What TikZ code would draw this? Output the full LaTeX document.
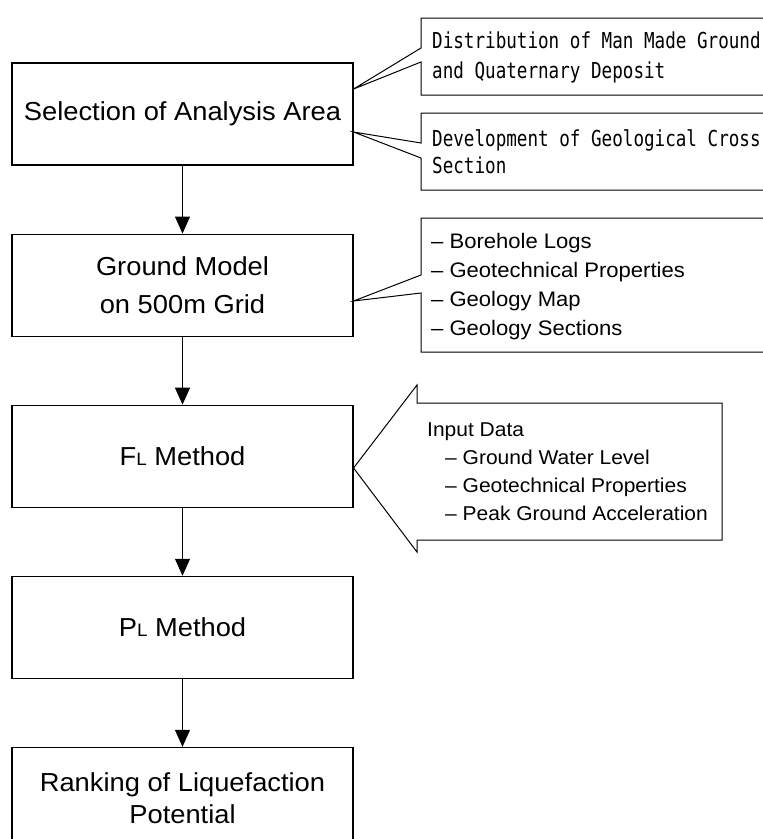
\documentclass[tikz,border=0pt]{standalone}
\usepackage{fontspec}
\setmainfont{Liberation Sans}[FakeStretch=1.05]
\newfontfamily\gothicmono{DejaVu Sans Mono}[FakeStretch=0.8]
\usetikzlibrary{positioning,arrows.meta}
\tikzset{
  stage/.style={draw, line width=1.1pt, minimum width=341pt, minimum height=102pt,
    align=center, font=\fontsize{26}{38}\selectfont},
  note/.style={draw, line width=1pt, fill=white},
  notetext/.style={anchor=base west, inner sep=0pt, align=left},
  flow/.style={line width=1pt, -{Triangle[length=17pt,width=15pt]}}
}
\newcommand{\sub}[1]{{\fontsize{18}{18}\selectfont #1}}
\begin{document}
\begin{tikzpicture}[x=1pt,y=-1pt]
\useasboundingbox (0,0) rectangle (763,839);
\clip (0,0) rectangle (763,839);

\node [stage] (sel) at (182.5,114) {Selection of Analysis Area};
\node [stage, below=68pt of sel] (grd) {Ground Model\\on 500m Grid};
\node [stage, below=68pt of grd] (fl) {F\sub{L} Method};
\node [stage, below=68pt of fl] (pl) {P\sub{L} Method};
\node [stage, below=68pt of pl, font=\fontsize{26}{32}\selectfont] (rank) {Ranking of Liquefaction\\Potential};

\draw [flow] (sel) -- (grd);
\draw [flow] (grd) -- (fl);
\draw [flow] (fl) -- (pl);
\draw [flow] (pl) -- (rank);

% callouts
\coordinate (t1) at (sel.east |- 0,89);
\coordinate (t2) at (sel.east |- 0,132);
\coordinate (t3) at (grd.east |- 0,301);
\coordinate (t4) at (fl.east |- 0,468);

\draw [note] (421,18) -- (421,48) -- (t1) -- (421,62) -- (421,95) -- (790,95) -- (790,18) -- cycle;
\draw [note] (421,113) -- (421,143) -- (t2) -- (421,158) -- (421,190) -- (790,190) -- (790,113) -- cycle;
\draw [note] (421,218) -- (421,275) -- (t3) -- (421,293) -- (421,352) -- (790,352) -- (790,218) -- cycle;
\draw [note] (t4) -- (417,385) -- (417,403) -- (722,403) -- (722,540) -- (417,540) -- (417,552) -- cycle;

% texts, placed by the baseline of their last line
\node [notetext, font=\gothicmono\fontsize{22}{30}\selectfont] (dmg) at (432,78)
  {Distribution of Man Made Ground\\and Quaternary Deposit};
\node [notetext, font=\gothicmono\fontsize{22}{27}\selectfont] (dgc) at (432,173)
  {Development of Geological Cross\\Section};
\node [notetext, font=\fontsize{21}{29}\selectfont] (data) at (431,335)
  {– Borehole Logs\\– Geotechnical Properties\\– Geology Map\\– Geology Sections};
\node [notetext, font=\fontsize{20}{28}\selectfont] (input) at (427,520)
  {Input Data\\\hspace*{18pt}– Ground Water Level\\\hspace*{18pt}– Geotechnical Properties\\\hspace*{18pt}– Peak Ground Acceleration};
\end{tikzpicture}
\end{document}
